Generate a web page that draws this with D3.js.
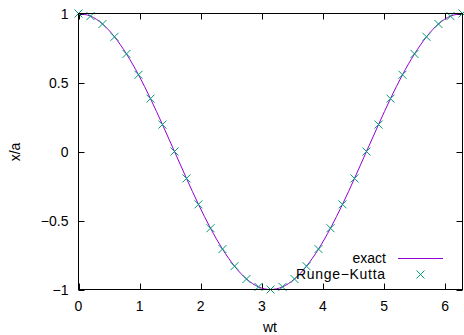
<!DOCTYPE html>
<html>
<head>
<meta charset="utf-8">
<script src="https://cdn.jsdelivr.net/npm/d3@7"></script>
<style>
  body { margin: 0; background: #fff; }
  svg text { font-family: "Liberation Sans", Arial, sans-serif; font-size: 14px; fill: #000; }
</style>
</head>
<body>
<svg id="chart" width="464" height="335"></svg>
<script>
// ── Data ──────────────────────────────────────────────────────────────────────
const wt = [0, 0.196, 0.393, 0.589, 0.785, 0.982, 1.178, 1.374, 1.571, 1.767, 1.963,
            2.160, 2.356, 2.553, 2.749, 2.945, 3.142, 3.338, 3.534, 3.731, 3.927,
            4.123, 4.320, 4.516, 4.712, 4.909, 5.105, 5.301, 5.498, 5.694, 5.890,
            6.087, 6.283];
const exactXA = [1, 0.981, 0.924, 0.831, 0.707, 0.556, 0.383, 0.195, 0, -0.195, -0.383,
                 -0.556, -0.707, -0.831, -0.924, -0.981, -1, -0.981, -0.924, -0.831, -0.707,
                 -0.556, -0.383, -0.195, 0, 0.195, 0.383, 0.556, 0.707, 0.831, 0.924,
                 0.981, 1];
const rkXA = [1, 0.981, 0.924, 0.831, 0.707, 0.556, 0.383, 0.195, 0, -0.195, -0.383,
              -0.556, -0.707, -0.831, -0.924, -0.981, -1, -0.981, -0.924, -0.831, -0.707,
              -0.556, -0.383, -0.195, 0, 0.195, 0.383, 0.556, 0.707, 0.831, 0.924,
              0.981, 1];
const xTicks = [0, 1, 2, 3, 4, 5, 6];
const yTicks = [1, 0.5, 0, -0.5, -1];
const legendNames = ['exact', 'Runge\u2212Kutta'];

// ── Layout ────────────────────────────────────────────────────────────────────
const m = { top: 13.5, right: 1.5, bottom: 45.5, left: 78.5 };
const W = 464, H = 335;
const svg = d3.select('#chart');

const x = d3.scaleLinear().domain([0, 2 * Math.PI]).range([m.left, W - m.right]);
const y = d3.scaleLinear().domain([-1, 1]).range([H - m.bottom, m.top]);

const fmt = d => d < 0 ? '\u2212' + Math.abs(d) : String(d);
const TICK = 6;

// Ticks (mirrored on all sides, pointing inward)
const tk = svg.append('g').attr('stroke', '#000').attr('stroke-width', 1);
xTicks.forEach(t => {
    const px = Math.round(x(t)) + 0.5;
    tk.append('line').attr('x1', px).attr('x2', px).attr('y1', y(-1)).attr('y2', y(-1) - TICK);
    tk.append('line').attr('x1', px).attr('x2', px).attr('y1', y(1)).attr('y2', y(1) + TICK);
});
yTicks.forEach(t => {
    const py = Math.round(y(t)) + 0.5;
    tk.append('line').attr('x1', x(0)).attr('x2', x(0) + TICK).attr('y1', py).attr('y2', py);
    tk.append('line').attr('x1', x(2 * Math.PI)).attr('x2', x(2 * Math.PI) - TICK).attr('y1', py).attr('y2', py);
});

// Tick labels
svg.selectAll('text.xt').data(xTicks).join('text')
    .attr('class', 'xt')
    .attr('x', d => x(d)).attr('y', H - m.bottom + 21)
    .attr('text-anchor', 'middle')
    .text(fmt);
svg.selectAll('text.yt').data(yTicks).join('text')
    .attr('class', 'yt')
    .attr('x', m.left - 10).attr('y', d => y(d) + 5)
    .attr('text-anchor', 'end')
    .text(fmt);

// Axis titles
svg.append('text').attr('x', 270).attr('y', 332).attr('text-anchor', 'middle').text('wt');
svg.append('text')
    .attr('transform', 'translate(20,152) rotate(-90)')
    .attr('text-anchor', 'middle').text('x/a');

// Exact curve
svg.append('path')
    .datum(wt.map((v, i) => [v, exactXA[i]]))
    .attr('fill', 'none')
    .attr('stroke', '#9400d3')
    .attr('stroke-width', 1)
    .attr('d', d3.line().x(d => x(d[0])).y(d => y(d[1])).curve(d3.curveNatural));

// Runge-Kutta markers
const cross = (g, cx, cy, r) => {
    g.append('path')
        .attr('d', `M${cx - r},${cy - r}L${cx + r},${cy + r}M${cx - r},${cy + r}L${cx + r},${cy - r}`)
        .attr('stroke', '#009e73').attr('stroke-width', 1).attr('fill', 'none');
};
const mk = svg.append('g');
wt.forEach((v, i) => cross(mk, x(v), y(rkXA[i]), 4));

// Legend
svg.append('text').attr('x', 386).attr('y', 263).attr('text-anchor', 'end').text(legendNames[0]);
svg.append('line').attr('x1', 398).attr('x2', 443).attr('y1', 258.5).attr('y2', 258.5)
    .attr('stroke', '#9400d3').attr('stroke-width', 1);
svg.append('text').attr('x', 296).attr('y', 279)
    .attr('textLength', 89).attr('lengthAdjust', 'spacing')
    .text(legendNames[1]);
cross(svg, 420.5, 274.5, 4);

// Border
svg.append('rect')
    .attr('x', x(0)).attr('y', y(1))
    .attr('width', x(2 * Math.PI) - x(0)).attr('height', y(-1) - y(1))
    .attr('fill', 'none').attr('stroke', '#000').attr('stroke-width', 1);
</script>
</body>
</html>
